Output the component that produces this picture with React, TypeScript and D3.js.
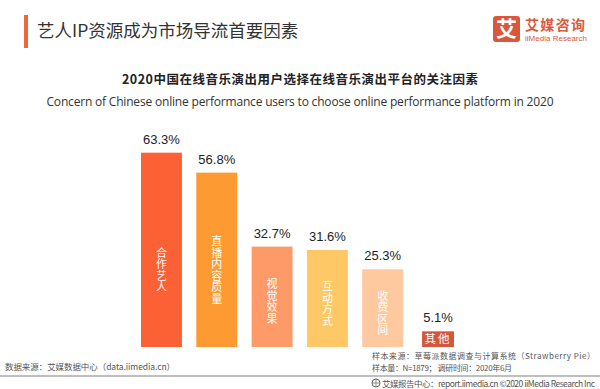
import React from "react";
import * as d3 from "d3";

const categories = ["合作艺人", "直播内容质量", "视觉效果", "互动方式", "收费区间", "其他"];
const values = [63.3, 56.8, 32.7, 31.6, 25.3, 5.1];
const colors = ["#fc6135", "#fd9a32", "#fd9a68", "#fec867", "#fec99e", "#d5563b"];

const W = 600;
const H = 389;
const CJK = "'Noto Sans CJK SC', 'Noto Sans', sans-serif";
const NUM = "'Liberation Sans', Arial, sans-serif";

export default function App() {
  const x = d3
    .scaleBand<string>()
    .domain(categories)
    .range([141, 141 + 6 * 55.3 - 14.3])
    .paddingInner(0.26)
    .paddingOuter(0);
  const y = d3.scaleLinear().domain([0, 70]).range([347, 347 - 70 * 3.07]);
  const bottom = y(0);

  return (
    <svg
      width={W}
      height={H}
      style={{ position: "absolute", left: 0, top: 0, background: "#fff" }}
    >
      {/* header */}
      <rect x={24} y={15} width={4} height={33} fill="#f0663a" />
      <text x={37} y={37} fontFamily={CJK} fontSize={17.5} fill="#333">
        艺人IP资源成为市场导流首要因素
      </text>

      {/* logo */}
      <rect x={493} y={16} width={27} height={26} rx={3} fill="#d9573c" />
      <text x={506.5} y={36} textAnchor="middle" fontFamily={CJK} fontSize={21} fontWeight="bold" fill="#fff">
        艾
      </text>
      <text x={525} y={30} fontFamily={CJK} fontSize={14} fontWeight="bold" fill="#d85a3f" textLength={60}>
        艾媒咨询
      </text>
      <text x={525} y={41} fontFamily={NUM} fontSize={8} fill="#d85a3f" textLength={62}>
        iiMedia Research
      </text>

      {/* titles */}
      <text x={300} y={84} textAnchor="middle" fontFamily={CJK} fontSize={12.5} fontWeight="bold" fill="#222" textLength={356}>
        2020中国在线音乐演出用户选择在线音乐演出平台的关注因素
      </text>
      <text x={300} y={106} textAnchor="middle" fontFamily={"'Open Sans', sans-serif"} fontSize={12} fill="#333" textLength={507}>
        Concern of Chinese online performance users to choose online performance platform in 2020
      </text>

      {/* bars */}
      {categories.map((c, i) => {
        const full = x.bandwidth();
        const last = i === categories.length - 1;
        const bw = last ? full * 0.78 : full;
        const cx = (x(c) as number) + full / 2;
        const top = y(values[i]);
        const h = bottom - top;
        const mid = Math.max((top + bottom) / 2 + 5, 270);
        return (
          <g key={c}>
            <rect x={cx - bw / 2} y={top} width={bw} height={h} fill={colors[i]} />
            <text x={cx} y={top - 9} textAnchor="middle" fontFamily={NUM} fontSize={13} fill="#222">
              {values[i].toFixed(1)}%
            </text>
            {!last ? (
              <text
                x={cx}
                y={mid}
                textAnchor="middle"
                fontFamily={CJK}
                fontSize={11}
                fill="#fff"
                letterSpacing={0.5}
                style={{ writingMode: "vertical-rl" }}
              >
                {c}
              </text>
            ) : (
              <text x={cx} y={top + h / 2 + 4} textAnchor="middle" fontFamily={CJK} fontSize={11.5} fill="#fff" letterSpacing={2}>
                {c}
              </text>
            )}
          </g>
        );
      })}

      {/* footer */}
      <text x={5} y={369.5} fontFamily={CJK} fontSize={8.5} fill="#555" textLength={170}>
        数据来源：艾媒数据中心（data.iimedia.cn）
      </text>
      <text x={372} y={359} fontFamily={CJK} fontSize={8} fill="#555" textLength={223}>
        样本来源：草莓派数据调查与计算系统（Strawberry Pie）
      </text>
      <text x={372} y={371} fontFamily={CJK} fontSize={8} fill="#555" textLength={140}>
        样本量：N=1879； 调研时间：2020年6月
      </text>
      <line x1={0} x2={W} y1={376} y2={376} stroke="#aaa" strokeWidth={1.5} />
      <circle cx={376} cy={383} r={4} fill="none" stroke="#666" strokeWidth={1} />
      <path d="M372 383 H380 M376 379 V387" stroke="#666" strokeWidth={0.7} />
      <text x={382} y={386.5} fontFamily={CJK} fontSize={8.5} fill="#555" textLength={213}>
        艾媒报告中心：report.iimedia.cn ©2020 iiMedia Research Inc
      </text>
    </svg>
  );
}
